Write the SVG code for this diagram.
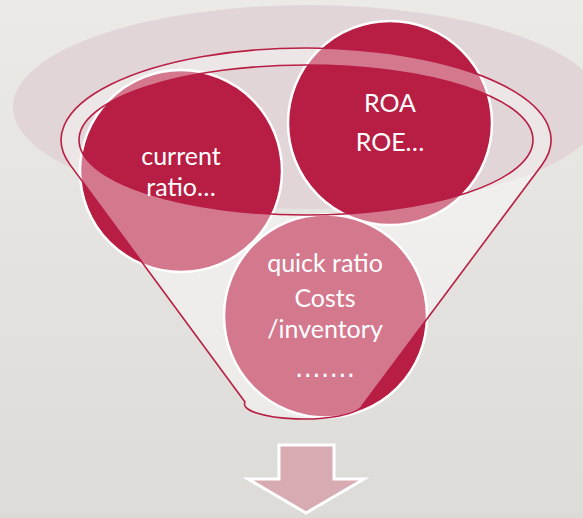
<svg xmlns="http://www.w3.org/2000/svg" width="583" height="518" viewBox="0 0 583 518">
  <defs>
    <linearGradient id="bg" x1="0" y1="0" x2="0" y2="1">
      <stop offset="0" stop-color="#EBEAE7"/>
      <stop offset="1" stop-color="#DDDBD7"/>
    </linearGradient>
    <style>
      .ball { fill: #B81E44; stroke: #FFFFFF; stroke-width: 2.5; }
      .lbl { font-family: Lato, "Liberation Sans", sans-serif; font-size: 25px; fill: #FFFFFF; text-anchor: middle; }
      .dots { font-family: "DejaVu Sans", sans-serif; font-size: 26px; fill: #FFFFFF; text-anchor: middle; }
      .rim { fill: none; stroke: #B81E44; stroke-width: 1.6; }
    </style>
  </defs>
  <rect x="0" y="0" width="583" height="518" fill="url(#bg)"/>

  <g id="funnel-back">
    <ellipse cx="308" cy="107" rx="295" ry="102" fill="#E2D5D7"/>
  </g>

  <g id="node-current-ratio">
    <circle class="ball" cx="181" cy="171" r="101"/>
  </g>
  <g id="node-roa">
    <circle class="ball" cx="390" cy="123" r="102"/>
  </g>
  <g id="node-quick-ratio">
    <circle class="ball" cx="325.5" cy="316" r="101.5"/>
  </g>

  <g id="funnel-front">
    <path d="M 245 402 L 70 164.6 A 245 92 0 1 1 541.9 164.9 L 362 406 A 59 15 0 0 1 245 402 Z M 79 140 A 227 75 0 1 0 533 140 A 227 75 0 1 0 79 140 Z" fill="#FFFFFF" fill-opacity="0.4" fill-rule="evenodd" stroke="none"/>
    <path class="rim" d="M 245 402 L 70 164.6 A 245 92 0 1 1 541.9 164.9 L 362 406 A 59 15 0 0 1 245 402 Z"/>
    <ellipse class="rim" cx="306" cy="140" rx="227" ry="75"/>
  </g>

  <g id="labels">
    <text class="lbl" x="181" y="165">current</text>
    <text class="lbl" x="181" y="196">ratio…</text>
    <text class="lbl" x="390" y="112">ROA</text>
    <text class="lbl" x="390" y="151">ROE…</text>
    <text class="lbl" x="325" y="272">quick ratio</text>
    <text class="lbl" x="325" y="307">Costs</text>
    <text class="lbl" x="325" y="338">/inventory</text>
    <text class="dots" x="325" y="377">…….</text>
  </g>

  <g id="arrow">
    <polygon points="279,445 334,445 334,479 364,479 306,513 248,479 279,479" fill="#D8ABB2" stroke="#FFFFFF" stroke-width="3"/>
  </g>
</svg>
